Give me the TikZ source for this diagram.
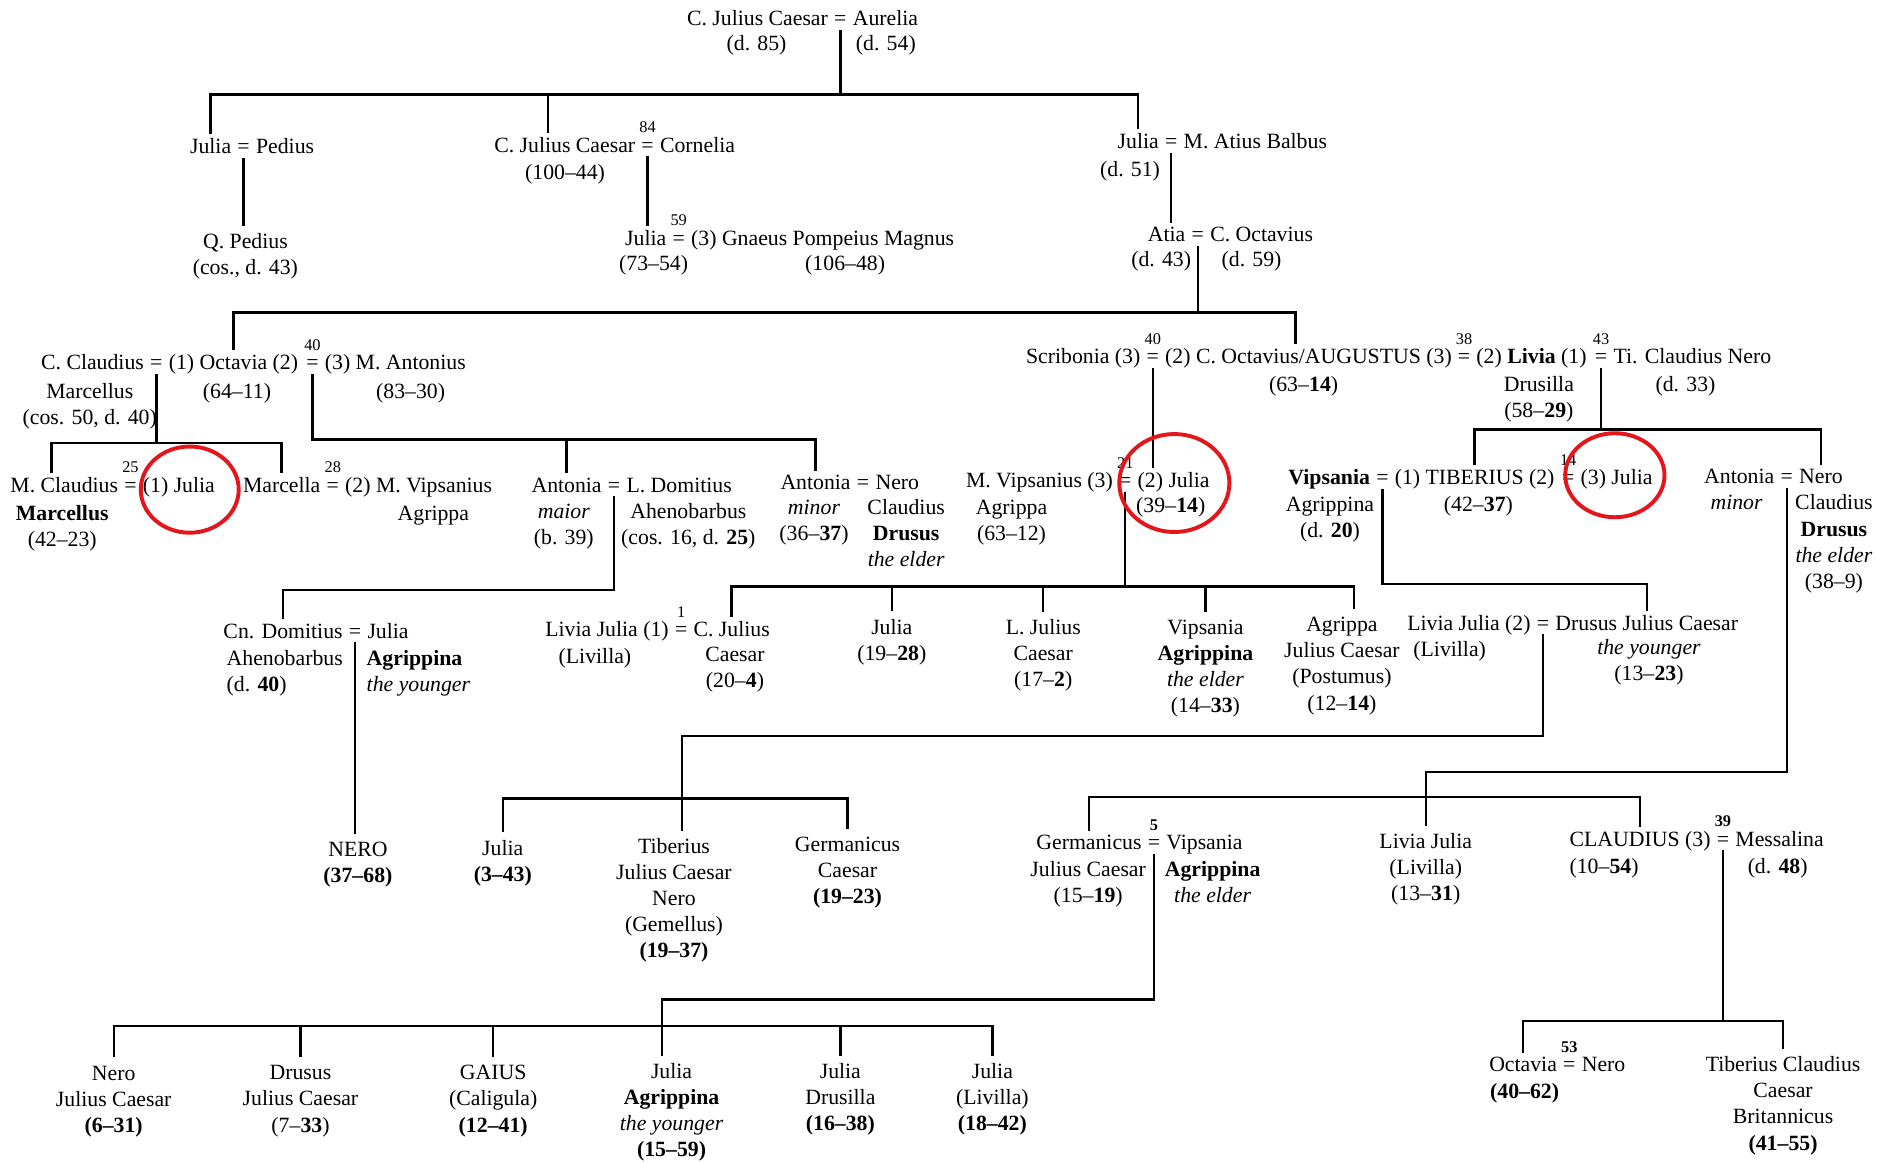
\documentclass[tikz,border=0pt]{standalone}
\usepackage{fontspec}
\setmainfont{Liberation Serif}
\usetikzlibrary{positioning}
\newcommand{\stk}[1]{\begin{tabular}[t]{@{}c@{}}#1\end{tabular}}
\newcommand{\stl}[1]{\begin{tabular}[t]{@{}l@{}}#1\end{tabular}}
\definecolor{ringred}{RGB}{228,22,28}

\begin{document}
\begin{tikzpicture}[x=0.55pt,y=-0.55pt,
	every node/.style={inner sep=0pt,outer ysep=2pt},
	line/.style={line width=1.1pt},
	eq/.style={anchor=base,inner xsep=1.25pt},
	p/.style={anchor=base},
	lp/.style={anchor=base east,inner xsep=1.25pt},
	rp/.style={anchor=base west,inner xsep=1.25pt},
	sup/.style={anchor=base,font=\fontsize{7.5}{9}\selectfont},
	ring/.style={draw=ringred,line width=1.8pt}]
\useasboundingbox (0,0) rectangle (1568,971);

%C. Julius Caesar and Aurelia
\node[eq] (e0) at (702,21.7) {=};
\node[lp] (cjcs) at (e0.base west) {C. Julius Caesar};
\node[rp] (aur) at (e0.base east) {Aurelia};
\node[p] (cjcsd) at (632,42.5) {(d. 85)};
\node[p] (aurd) at (740,42.5) {(d. 54)};

%their children
\node[eq] (e1a) at (203.5,128.5) {=};
\node[lp] (jul1) at (e1a.base west) {Julia};
\node[rp] (ped) at (e1a.base east) {Pedius};
\node[p] (qped) at (205,207.5) {\stk{Q. Pedius\\(cos., d. 43)}};

\node[eq] (e1b) at (541,127) {=};
\node[sup] (m84) at ([yshift=8.8pt]e1b.base) {84};
\node[lp] (cjc) at (e1b.base west) {C. Julius Caesar};
\node[rp] (corn) at (e1b.base east) {Cornelia};
\node[p] (cjcd) at (472,150) {(100--44)};

\node[eq] (e1c) at (567,204.7) {=};
\node[sup] (m59) at ([yshift=8.8pt]e1c.base) {59};
\node[lp] (jul2) at (e1c.base west) {Julia};
\node[rp] (pomp) at (e1c.base east) {(3) Gnaeus Pompeius Magnus};
\node[p] (jul2d) at (546,226) {(73--54)};
\node[p] (pompd) at (706,226) {(106--48)};

\node[eq] (e1d) at (978.4,124) {=};
\node[lp] (jul3) at (e1d.base west) {Julia};
\node[rp] (balb) at (e1d.base east) {M. Atius Balbus};
\node[p] (jul3d) at (944,147.6) {(d. 51)};

\node[eq] (e1e) at (1000.6,202) {=};
\node[lp] (atia) at (e1e.base west) {Atia};
\node[rp] (coct) at (e1e.base east) {C. Octavius};
\node[p] (atiad) at (970,223) {(d. 43)};
\node[p] (coctd) at (1045.5,223) {(d. 59)};

%Octavia and Augustus
\node[eq] (e2a) at (130.6,309) {=};
\node[lp] (ccm) at (e2a.base west) {C. Claudius};
\node[rp] (octa) at (e2a.base east) {(1) Octavia (2)};
\node[eq] (e2b) at (261,309) {=};
\node[sup] (m40a) at ([yshift=8.8pt]e2b.base) {40};
\node[rp] (mant) at (e2b.base east) {(3) M. Antonius};
\node[p] (ccmd) at (75,332.8) {\stk{Marcellus\\(cos. 50, d. 40)}};
\node[p] (octad) at (198,332.8) {(64--11)};
\node[p] (mantd) at (343,332.8) {(83--30)};

\node[eq] (e2c) at (963,303.5) {=};
\node[sup] (m40b) at ([yshift=8.8pt]e2c.base) {40};
\node[lp] (scr) at (e2c.base west) {Scribonia (3)};
\node[rp] (aug) at (e2c.base east) {(2) C. Octavius/AUGUSTUS (3)};
\node[eq] (e2d) at (1223,303.5) {=};
\node[sup] (m38) at ([yshift=8.8pt]e2d.base) {38};
\node[rp] (liv) at (e2d.base east) {(2) \textbf{Livia} (1)};
\node[eq] (e2e) at (1337.5,303.5) {=};
\node[sup] (m43) at ([yshift=8.8pt]e2e.base) {43};
\node[rp] (tcn) at (e2e.base east) {Ti. Claudius Nero};
\node[p] (augd) at (1089,327.2) {(63--\textbf{14})};
\node[p] (livd) at (1285.5,327) {\stk{Drusilla\\(58--\textbf{29})}};
\node[p] (tcnd) at (1408,327) {(d. 33)};

%third row
\node[eq] (e3a) at (109,411) {=};
\node[sup] (m25) at ([yshift=8.8pt]e3a.base) {25};
\node[lp] (mcm) at (e3a.base west) {M. Claudius};
\node[rp] (jul4) at (e3a.base east) {(1) Julia};
\node[p] (mcmd) at (52,434.4) {\stk{\textbf{Marcellus}\\(42--23)}};

\node[eq] (e3b) at (278,411) {=};
\node[sup] (m28) at ([yshift=8.8pt]e3b.base) {28};
\node[lp] (marc) at (e3b.base west) {Marcella};
\node[rp] (mva) at (e3b.base east) {(2) M. Vipsanius};
\node[p] (mvad) at (362,434.4) {Agrippa};

\node[eq] (e3c) at (513,411) {=};
\node[lp] (anma) at (e3c.base west) {Antonia};
\node[rp] (ldom) at (e3c.base east) {L. Domitius};
\node[p] (anmad) at (471,433) {\stk{\textit{maior}\\(b. 39)}};
\node[p] (ldomd) at (575,433) {\stk{Ahenobarbus\\(cos. 16, d. \textbf{25})}};

\node[eq] (e3d) at (721,408.8) {=};
\node[lp] (anmi) at (e3d.base west) {Antonia};
\node[rp] (ncd) at (e3d.base east) {Nero};
\node[p] (anmid) at (680,430) {\stk{\textit{minor}\\(36--\textbf{37})}};
\node[p] (ncdd) at (757,430) {\stk{Claudius\\\textbf{Drusus}\\\textit{the elder}}};

\node[eq] (e3e) at (940,407) {=};
\node[sup] (m21) at ([yshift=8.8pt]e3e.base) {21};
\node[lp] (mvag) at (e3e.base west) {M. Vipsanius (3)};
\node[rp] (jul5) at (e3e.base east) {(2) Julia};
\node[p] (mvagd) at (845,429.7) {\stk{Agrippa\\(63--12)}};
\node[p] (jul5d) at (978,428.3) {(39--\textbf{14})};

\node[eq] (e3f) at (1154.8,405) {=};
\node[lp] (vips) at (e3f.base west) {\textbf{Vipsania}};
\node[rp] (tib) at (e3f.base east) {(1) TIBERIUS (2)};
\node[eq] (e3g) at (1310,405) {=};
\node[sup] (m14) at ([yshift=8.8pt]e3g.base) {14};
\node[rp] (jul6) at (e3g.base east) {(3) Julia};
\node[p] (vipsd) at (1111,427.5) {\stk{Agrippina\\(d. \textbf{20})}};
\node[p] (tibd) at (1235,427.5) {(42--\textbf{37})};

\node[eq] (e3h) at (1492.6,403.8) {=};
\node[lp] (anmi2) at (e3h.base west) {Antonia};
\node[rp] (ncd2) at (e3h.base east) {Nero};
\node[p] (anmi2d) at (1450.7,426) {\textit{minor}};
\node[p] (ncd2d) at (1532,426) {\stk{Claudius\\\textbf{Drusus}\\\textit{the elder}\\(38--9)}};

%fourth row
\node[eq] (e4a) at (296.6,533) {=};
\node[lp] (cnd) at (e4a.base west) {Cn. Domitius};
\node[rp] (jul7) at (e4a.base east) {Julia};
\node[p,anchor=base west] (cndd) at (189,555.6) {\stl{Ahenobarbus\\(d. \textbf{40})}};
\node[p,anchor=base west] (jul7d) at (306,555.6) {\stl{\textbf{Agrippina}\\\textit{the younger}}};

\node[eq] (e4b) at (569,532) {=};
\node[sup] (m1) at ([yshift=8.8pt]e4b.base) {1};
\node[lp] (lj1) at (e4b.base west) {Livia Julia (1)};
\node[rp] (cjc2) at (e4b.base east) {C. Julius};
\node[p] (lj1d) at (497,554) {(Livilla)};
\node[p] (cjc2d) at (614,552.8) {\stk{Caesar\\(20--\textbf{4})}};
\node[p] (jul8) at (745,529.7) {\stk{Julia\\(19--\textbf{28})}};
\node[p] (ljc) at (871.5,530) {\stk{L. Julius\\Caesar\\(17--\textbf{2})}};
\node[p] (vag) at (1007,530) {\stk{Vipsania\\\textbf{Agrippina}\\\textit{the elder}\\(14--\textbf{33})}};
\node[p] (apost) at (1121,527.7) {\stk{Agrippa\\Julius Caesar\\(Postumus)\\(12--\textbf{14})}};

\node[eq] (e4c) at (1289,526.3) {=};
\node[lp] (lj2) at (e4c.base west) {Livia Julia (2)};
\node[rp] (djc) at (e4c.base east) {Drusus Julius Caesar};
\node[p] (lj2d) at (1211,548.6) {(Livilla)};
\node[p] (djcd) at (1377.5,547) {\stk{\textit{the younger}\\(13--\textbf{23})}};

%fifth row
\node[p] (nero) at (299,715.7) {\stk{NERO\\\textbf{(37--68)}}};
\node[p] (jul9) at (420,714.3) {\stk{Julia\\\textbf{(3--43)}}};
\node[p] (tjcn) at (563,713) {\stk{Tiberius\\Julius Caesar\\Nero\\(Gemellus)\\\textbf{(19--37)}}};
\node[p] (gcae) at (708,711.5) {\stk{Germanicus\\Caesar\\\textbf{(19--23)}}};

\node[eq] (e5a) at (964,710) {=};
\node[sup] (m5) at ([yshift=8.8pt]e5a.base) {\textbf{5}};
\node[lp] (germ) at (e5a.base west) {Germanicus};
\node[rp] (vag2) at (e5a.base east) {Vipsania};
\node[p] (germd) at (909,732.4) {\stk{Julius Caesar\\(15--\textbf{19})}};
\node[p] (vag2d) at (1013,732.4) {\stk{\textbf{Agrippina}\\\textit{the elder}}};
\node[p] (lj3) at (1191,708.7) {\stk{Livia Julia\\(Livilla)\\(13--\textbf{31})}};

\node[eq] (e5b) at (1439.3,706.8) {=};
\node[sup] (m39) at ([yshift=8.8pt]e5b.base) {\textbf{39}};
\node[lp] (claud) at (e5b.base west) {CLAUDIUS (3)};
\node[rp] (mess) at (e5b.base east) {Messalina};
\node[p] (claudd) at (1340,729.6) {(10--\textbf{54})};
\node[p] (messd) at (1485,729.6) {(d. \textbf{48})};

%last row
\node[p] (njc) at (95,902.3) {\stk{Nero\\Julius Caesar\\\textbf{(6--31)}}};
\node[p] (drjc) at (251,902) {\stk{Drusus\\Julius Caesar\\(7--\textbf{33})}};
\node[p] (gaius) at (412,902) {\stk{GAIUS\\(Caligula)\\\textbf{(12--41)}}};
\node[p] (jagr) at (561,901) {\stk{Julia\\\textbf{Agrippina}\\\textit{the younger}\\\textbf{(15--59)}}};
\node[p] (jdru) at (702,901) {\stk{Julia\\Drusilla\\\textbf{(16--38)}}};
\node[p] (jliv) at (829,901) {\stk{Julia\\(Livilla)\\\textbf{(18--42)}}};

\node[eq] (e6a) at (1311,895.3) {=};
\node[sup] (m53) at ([yshift=8.8pt]e6a.base) {\textbf{53}};
\node[lp] (octv) at (e6a.base west) {Octavia};
\node[rp] (nero2) at (e6a.base east) {Nero};
\node[p] (octvd) at (1273.6,917.6) {\textbf{(40--62)}};
\node[p] (brit) at (1489.5,895.3) {\stk{Tiberius Claudius\\Caesar\\Britannicus\\\textbf{(41--55)}}};

%bar heights
\coordinate (b0) at (0,79);
\coordinate (b1) at (0,261);
\coordinate (b2) at (0,370);
\coordinate (b3) at (0,367);
\coordinate (b4) at (0,493);
\coordinate (b5) at (0,490);
\coordinate (b6) at (0,358.7);
\coordinate (b7) at (0,488);
\coordinate (b8) at (0,645);
\coordinate (b9) at (0,615);
\coordinate (b10) at (0,835);
\coordinate (b11) at (0,853);
\coordinate (s1) at (0,667);
\coordinate (s2) at (0,666);
\coordinate (s3) at (0,857);

%descent lines
\foreach \c in {jul1,jul3}
	\draw[line] (e0.south) -- (e0.south |- b0) -| (\c.north);
\draw[line] (e0.south) -- (e0.south |- b0) -| ([xshift=-7.7pt]cjc.north);

\draw[line] (e1a.south) -- (e1a.south |- qped.north);
\draw[line] (e1b.south) -- (e1b.south |- jul2.north);
\draw[line] (e1d.south) -- (e1d.south |- atia.north);

\draw[line] (e1e.south) -- (e1e.south |- b1) -| (octa.north);
\draw[line] (e1e.south) -- (e1e.south |- b1) -| ([xshift=-6pt]aug.north);

\draw[line] (e2a.south) -- (e2a.south |- b2) -| ([xshift=-5.8pt]mcm.north);
\draw[line] (e2a.south) -- (e2a.south |- b2) -| (marc.north);
\foreach \c in {anma,anmi}
	\draw[line] (e2b.south) -- (e2b.south |- b3) -| (\c.north);
\draw[line] (e2c.south) -- (e2c.south |- jul5.north);
\foreach \c in {tib,ncd2}
	\draw[line] (e2e.south) -- (e2e.south |- b6) -| (\c.north);

\draw[line] (e3c.south) -- (e3c.south |- b4) -| (cnd.north);
\foreach \c in {cjc2,jul8,ljc,vag}
	\draw[line] (e3e.south) -- (e3e.south |- b5) -| (\c.north);
\draw[line] (e3e.south) -- (e3e.south |- b5) -| ([xshift=5.5pt]apost.north);
\draw[line] (e3f.south) -- (e3f.south |- b7) -| (djc.north);
\draw[line] (e3h.south) -- (e3h.south |- b8) -| (lj3.north);

\draw[line] (e4a.south) -- (e4a.south |- nero.north);
\draw[line] (e4c.south) -- (e4c.south |- b9) -| ([xshift=3.8pt]tjcn.north);
\draw[line] (jul9.north) -- (jul9.north |- s1) -| (gcae.north);

\draw[line] (germ.north) -- (germ.north |- s2) -| (claud.north);
\draw[line] (e5a.south) -- (e5a.south |- b10) -| ([xshift=-4.4pt]jagr.north);
\foreach \c in {octv,brit}
	\draw[line] (e5b.south) -- (e5b.south |- b11) -| (\c.north);

\draw[line] (njc.north) -- (njc.north |- s3) -| (jliv.north);
\foreach \c in {drjc,gaius,jdru}
	\draw[line] (\c.north) -- (\c.north |- s3);

%red rings
\draw[ring] (158.5,409) ellipse [x radius=22.5pt, y radius=19.8pt];
\draw[ring] (981,403.5) ellipse [x radius=25.3pt, y radius=22.5pt];
\draw[ring] (1349,397) ellipse [x radius=22.8pt, y radius=19.3pt];
\end{tikzpicture}
\end{document}
